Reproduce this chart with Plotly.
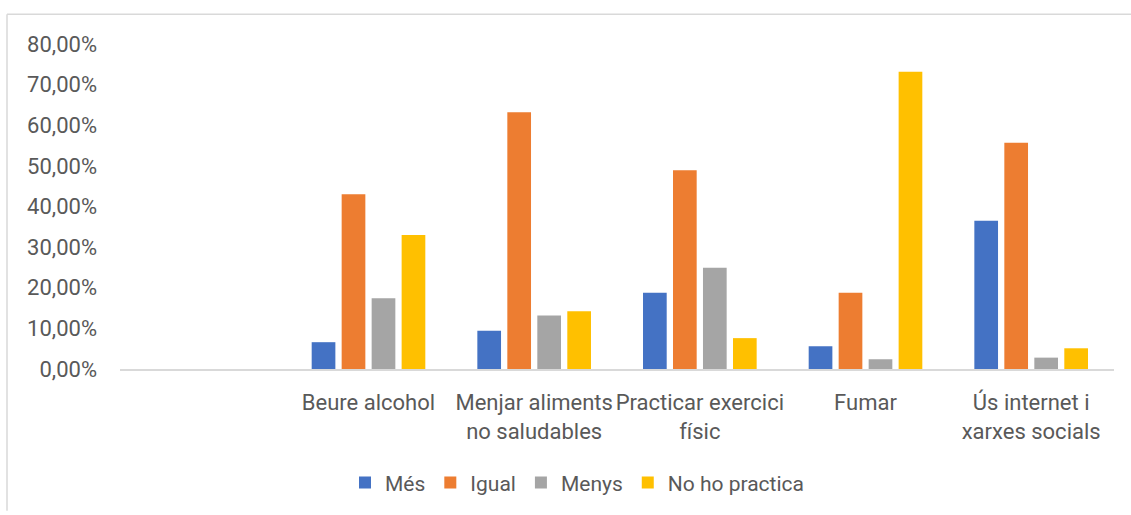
import plotly.graph_objects as go

categories = ["", "Beure alcohol", "Menjar aliments<br>no saludables",
              "Practicar exercici<br>físic", "Fumar", "Ús internet i<br>xarxes socials"]
series_names = ["Més", "Igual", "Menys", "No ho practica"]
mes = [None, 0.066, 0.094, 0.188, 0.056, 0.365]
igual = [None, 0.430, 0.632, 0.489, 0.188, 0.557]
menys = [None, 0.174, 0.132, 0.249, 0.024, 0.028]
no_practica = [None, 0.330, 0.142, 0.076, 0.732, 0.051]
colors = ["#4472C4", "#ED7D31", "#A5A5A5", "#FFC000"]

x_pos = list(range(len(categories)))

fig = go.Figure()
for name, vals, col in zip(series_names, [mes, igual, menys, no_practica], colors):
    fig.add_trace(go.Bar(x=x_pos, y=vals, name=name, marker=dict(color=col, line=dict(width=0))))

W, H = 1131, 515
L, R, T, B = 120, 17, 44, 143
pw, ph = W - L - R, H - T - B

def px_x(p):
    return (p - L) / pw

def px_y(p):
    return (H - B - p) / ph

font_family = "Roboto, 'Open Sans', sans-serif"
fig.update_layout(
    width=W, height=H,
    margin=dict(l=L, r=R, t=T, b=B, pad=0),
    paper_bgcolor="white", plot_bgcolor="white",
    barmode="group", bargap=0.276, bargroupgap=0.21,
    separators=",.",
    font=dict(family=font_family, color="#595959", size=22),
    showlegend=True,
    legend=dict(orientation="h", x=px_x(577), xanchor="center", y=px_y(487), yanchor="middle",
                font=dict(size=21, color="#595959"), traceorder="normal", itemwidth=30),
    shapes=[
        dict(type="line", xref="paper", yref="paper", x0=px_x(7), x1=px_x(1131), y0=px_y(14), y1=px_y(14),
             line=dict(color="#D9D9D9", width=1.5)),
        dict(type="line", xref="paper", yref="paper", x0=px_x(7), x1=px_x(7), y0=px_y(14), y1=px_y(515),
             line=dict(color="#D9D9D9", width=1.5)),
    ],
)
fig.update_xaxes(range=[-0.5, len(categories) - 0.5], tickvals=x_pos, ticktext=categories,
                 showgrid=False, zeroline=False, showline=True, linecolor="#D9D9D9", linewidth=1.5,
                 ticks="", tickfont=dict(size=22, color="#595959"), ticklabelstandoff=13)
fig.update_yaxes(range=[0, 0.8], dtick=0.1, tickformat=".2%", showgrid=False, zeroline=False,
                 showline=False, ticks="", tickfont=dict(size=22, color="#595959"), ticklabelstandoff=22)

fig.write_html("out.html", config={"displayModeBar": False},
               post_script="document.body.style.margin='0px';")
